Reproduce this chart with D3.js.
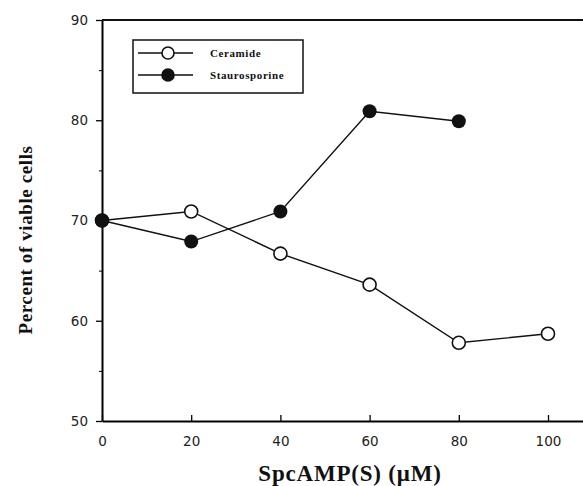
<!DOCTYPE html>
<html>
<head>
<meta charset="utf-8">
<script src="https://cdn.jsdelivr.net/npm/d3@7"></script>
<style>
  body { margin: 0; background: #fff; }
  .tick text { font-family: "DejaVu Sans", sans-serif; font-size: 13.5px; fill: #222; }
</style>
</head>
<body>
<div class="chart"></div>
<script>
var svgWidth = 583;
var svgHeight = 486;

// doses in uM
var doses = [0, 20, 40, 60, 80, 100];
var ceramide = [70, 70.9, 66.7, 63.6, 57.8, 58.7];
var stauroDoses = [0, 20, 40, 60, 80];
var staurosporine = [70, 67.9, 70.9, 80.9, 79.9];
var xTicks = [0, 20, 40, 60, 80, 100];
var yTicks = [50, 60, 70, 80, 90];
var yMinor = [55, 65, 75, 85];
var seriesNames = ["Ceramide", "Staurosporine"];

var margin = { top: 20, right: 0, bottom: 65, left: 102 };

var svg = d3.select(".chart")
  .append("svg")
  .attr("width", svgWidth)
  .attr("height", svgHeight);

var chartGroup = svg.append("g")
  .attr("transform", `translate(${margin.left}, ${margin.top})`);

var height = svgHeight - margin.top - margin.bottom;

var x = d3.scaleLinear().domain([0, 108]).range([0, 4.46 * 108]);
var y = d3.scaleLinear().domain([50, 90]).range([height, 0]);

// axes
var bottomAxis = d3.axisBottom(x).tickValues(xTicks).tickSizeInner(-6).tickSizeOuter(0).tickPadding(15);
var leftAxis = d3.axisLeft(y).tickValues(yTicks).tickSizeInner(6).tickSizeOuter(0).tickPadding(8);

var xg = chartGroup.append("g")
  .attr("transform", `translate(0, ${height})`)
  .call(bottomAxis);
xg.select(".domain").attr("stroke-width", 1.8);
xg.selectAll(".tick line").attr("stroke-width", 1.3);

var yg = chartGroup.append("g").call(leftAxis);
yg.select(".domain").attr("stroke-width", 2);
yg.selectAll(".tick line").attr("stroke-width", 1.3);

chartGroup.append("g")
  .call(d3.axisLeft(y).tickValues(yMinor).tickSize(3).tickFormat(""))
  .call(g => g.select(".domain").remove());

// top frame line
chartGroup.append("line")
  .attr("x1", 0).attr("x2", x(108))
  .attr("y1", 0).attr("y2", 0)
  .attr("stroke", "#111").attr("stroke-width", 2.2);

var line = d3.line().x(d => x(d[0])).y(d => y(d[1]));
var cerData = doses.map((d, i) => [d, ceramide[i]]);
var stData = stauroDoses.map((d, i) => [d, staurosporine[i]]);

chartGroup.append("path").datum(cerData)
  .attr("d", line).attr("fill", "none").attr("stroke", "#111").attr("stroke-width", 1.4);
chartGroup.append("path").datum(stData)
  .attr("d", line).attr("fill", "none").attr("stroke", "#111").attr("stroke-width", 1.4);

chartGroup.selectAll(".cer").data(cerData).enter().append("circle")
  .attr("cx", d => x(d[0])).attr("cy", d => y(d[1])).attr("r", 6.5)
  .attr("fill", "#fff").attr("stroke", "#111").attr("stroke-width", 1.6);
chartGroup.selectAll(".st").data(stData).enter().append("circle")
  .attr("cx", d => x(d[0])).attr("cy", d => y(d[1])).attr("r", 7)
  .attr("fill", "#111");

// legend
var legend = svg.append("g").attr("transform", "translate(133, 40)");
legend.append("rect").attr("width", 170).attr("height", 53)
  .attr("fill", "none").attr("stroke", "#111").attr("stroke-width", 1.5);
seriesNames.forEach(function (name, i) {
  var ly = 13 + i * 22;
  legend.append("line").attr("x1", 5).attr("x2", 60).attr("y1", ly).attr("y2", ly)
    .attr("stroke", "#111").attr("stroke-width", 1.4);
  legend.append("circle").attr("cx", 35).attr("cy", ly).attr("r", 6)
    .attr("fill", i ? "#111" : "#fff").attr("stroke", "#111").attr("stroke-width", 1.6);
  legend.append("text").attr("x", 77).attr("y", ly + 3.5)
    .attr("font-family", "Liberation Serif, serif").attr("font-weight", "bold")
    .attr("font-size", 11).attr("letter-spacing", 0.6).attr("fill", "#111").text(name);
});

// axis labels
svg.append("text")
  .attr("transform", "translate(32, 240) rotate(-90)")
  .attr("text-anchor", "middle")
  .attr("font-family", "Liberation Serif, serif").attr("font-weight", "bold")
  .attr("font-size", 19).attr("letter-spacing", 0.6).attr("fill", "#111")
  .text("Percent of viable cells");

svg.append("text")
  .attr("x", 350).attr("y", 481)
  .attr("text-anchor", "middle")
  .attr("font-family", "Liberation Serif, serif").attr("font-weight", "bold")
  .attr("font-size", 23).attr("letter-spacing", 0.8).attr("fill", "#111")
  .text("SpcAMP(S) (\u03bcM)");
</script>
</body>
</html>
